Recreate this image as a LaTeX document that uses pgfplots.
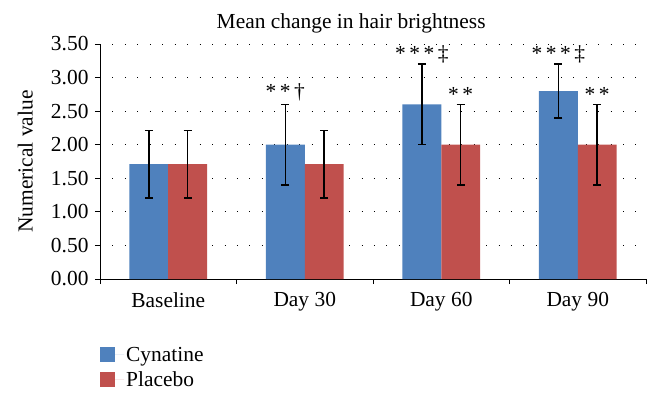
\documentclass[border=0pt]{standalone}
\usepackage{pgfplots}
\pgfplotsset{compat=1.18}
\usepackage{fontspec}
\setmainfont{Liberation Serif}
\definecolor{cblue}{HTML}{4F81BD}
\definecolor{cred}{HTML}{C0504D}
\newcommand{\fs}{\fontsize{21.5}{24}\selectfont}
\begin{document}
\begin{tikzpicture}
\useasboundingbox (-100bp,-125bp) rectangle (560bp,279bp);
\begin{axis}[
  at={(0,0)}, anchor=south west,
  scale only axis, width=546bp, height=235bp,
  xmin=-0.5, xmax=3.5, ymin=0, ymax=3.5,
  axis x line*=bottom, axis y line*=left,
  axis line style={line width=1pt, black},
  xtick={0,1,2,3},
  xticklabels={Baseline, Day 30, Day 60, Day 90},
  minor xtick={-0.5,0.5,1.5,2.5,3.5},
  major x tick style={draw=none},
  minor x tick style={black, line width=1pt},
  minor tick length=5bp,
  ytick={0,0.5,...,3.5},
  y tick style={black, line width=1pt},
  major tick length=5bp,
  tick align=outside,
  ymajorgrids,
  grid style={black, line width=0.9pt, dash pattern=on 0.9pt off 11.6pt},
  yticklabel style={xshift=-3bp, /pgf/number format/.cd, fixed, fixed zerofill, precision=2, assume math mode=true},
  ticklabel style={font=\fs},
  xticklabel style={yshift=-5bp},
  ylabel={Numerical value},
  ylabel style={font=\fs, at={(axis description cs:-0.137,0.5)}, anchor=center},
  title={Mean change in hair brightness},
  title style={font=\fs, at={(0.46,1)}, anchor=base, yshift=10bp},
  legend style={at={(0,-0.28)}, anchor=north west, draw=none, fill=none,
    font=\fs, row sep=5bp, inner sep=0pt, cells={anchor=west}},
  legend image code/.code={\fill[#1] (0bp,-7.5bp) rectangle (15bp,7.5bp); \path (0bp,0bp) -- (24bp,0bp);},
  bar width=0.285,
  error bars/error bar style={black, line width=1.5pt},
  error bars/error mark options={rotate=90, mark size=4bp, line width=1.5pt, black},
]
\addplot[ybar, fill=cblue, draw=none, bar shift=0,
  error bars/.cd, y dir=both, y explicit]
  coordinates {(-0.1425,1.71) +- (0,0.5) (0.8575,2.0) +- (0,0.6) (1.8575,2.6) +- (0,0.6) (2.8575,2.8) +- (0,0.4)};
\addlegendentry{Cynatine}
\addplot[ybar, fill=cred, draw=none, bar shift=0,
  error bars/.cd, y dir=both, y explicit]
  coordinates {(0.1425,1.71) +- (0,0.5) (1.1425,1.71) +- (0,0.5) (2.1425,2.0) +- (0,0.6) (3.1425,2.0) +- (0,0.6)};
\addlegendentry{Placebo}
\node[anchor=south, font=\fs, inner sep=3pt] at (axis cs:0.8575,2.6) {*\,*\,†};
\node[anchor=south, font=\fs, inner sep=1pt] at (axis cs:1.8575,3.2) {*\,*\,*\,‡};
\node[anchor=south, font=\fs, inner sep=3pt] at (axis cs:2.1425,2.6) {*\,*};
\node[anchor=south, font=\fs, inner sep=1pt] at (axis cs:2.8575,3.2) {*\,*\,*\,‡};
\node[anchor=south, font=\fs, inner sep=3pt] at (axis cs:3.1425,2.6) {*\,*};
\end{axis}
\end{tikzpicture}
\end{document}
